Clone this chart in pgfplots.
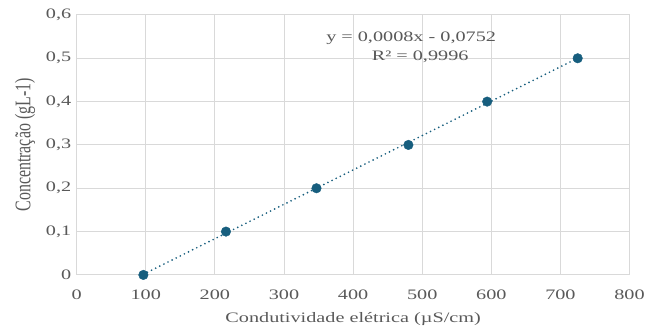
\documentclass[border=0pt]{standalone}
\usepackage{pgfplots}
\usepackage{pgfplotstable}
\pgfplotsset{compat=1.18}
\usepackage{fontspec}
\setmainfont{Liberation Serif}[FakeStretch=1.4]
\newfontfamily\plainfont{Liberation Serif}
\definecolor{txt}{HTML}{595959}
\definecolor{gridc}{HTML}{D9D9D9}
\definecolor{mk}{HTML}{175E7E}
\pgfplotstableread{
X Y
96.5 0
216 0.1
347 0.2
480 0.3
594 0.4
725 0.5
}\data
\begin{document}
\begin{tikzpicture}
\begin{axis}[
  scale only axis, width=555pt, height=261pt,
  xmin=0, xmax=800, ymin=0, ymax=0.6,
  xtick={0,100,...,800}, ytick={0,0.1,...,0.6},
  grid=major, major grid style={gridc, line width=0.9pt},
  axis line style={gridc, line width=0.9pt},
  tick style={draw=none},
  /pgf/number format/assume math mode=true,
  /pgf/number format/use comma,
  yticklabel style={/pgf/number format/fixed, /pgf/number format/precision=1, font=\fontsize{14.5}{16}\selectfont, text=txt, xshift=-2pt},
  xticklabel style={font=\fontsize{14.5}{16}\selectfont, text=txt, yshift=-12pt},
  xlabel={Condutividade elétrica (µS/cm)},
  ylabel={\scalebox{1}[1.4]{Concentração (gL-1)}},
  xlabel style={font=\fontsize{14.5}{16}\selectfont, text=txt, yshift=-6pt},
  ylabel style={font=\plainfont\fontsize{16}{18}\selectfont, text=txt, yshift=4pt},
]
\coordinate (o) at (rel axis cs:0,0);
\addplot[mk, line width=1.9pt, line cap=round, dash pattern=on 0pt off 4.6pt] table[x=X, y={create col/linear regression={y=Y}}] {\data};
\addplot[only marks, mark=*, mark size=4.8pt, mk] table[x=X, y=Y] {\data};
\node[text=txt, font=\fontsize{14.5}{16}\selectfont] at (axis cs:484,0.547) {y = 0,0008x - 0,0752};
\node[text=txt, font=\fontsize{14.5}{16}\selectfont] at (axis cs:497,0.503) {R² = 0,9996};
\end{axis}
\path (o) ++(-77pt,-56pt) rectangle ++(648pt,332pt);
\end{tikzpicture}
\end{document}
